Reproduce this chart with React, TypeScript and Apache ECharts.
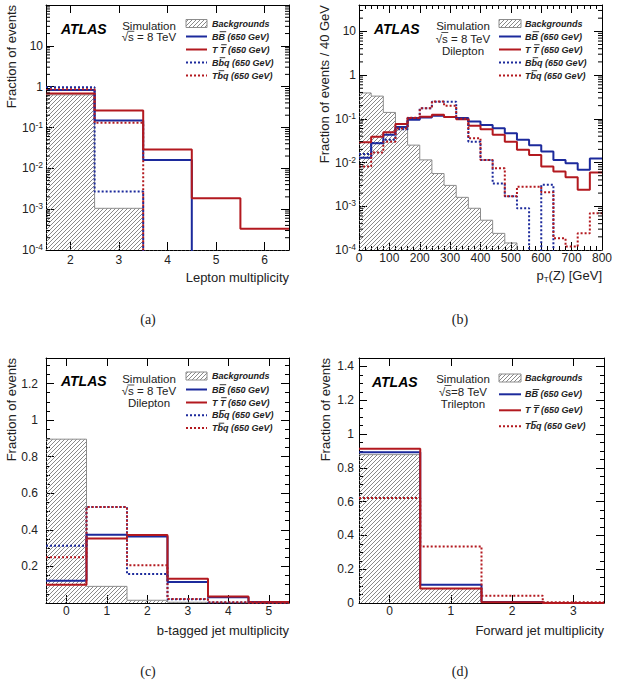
import React, { useEffect, useRef } from 'react';
import * as echarts from 'echarts';

// (a) Lepton multiplicity
const leptonCenters = [2, 3, 4, 5, 6];
const leptonBkg = [0.63, 0.00105, 0, 0, 0];
const leptonBB = [0.83, 0.148, 0.016, 0, 0];
const leptonTT = [0.68, 0.26, 0.029, 0.00185, 0.00033];
const leptonBbq = [0.97, 0.0027, 0, 0, 0];
const leptonTbq = [0.86, 0.13, 0, 0, 0];

// (b) pT(Z) [GeV], 40 GeV bins
const ptCenters = [20, 60, 100, 140, 180, 220, 260, 300, 340, 380, 420, 460, 500, 540, 580, 620, 660, 700, 740, 780];
const ptBkg = [0.39, 0.33, 0.14, 0.062, 0.025, 0.0115, 0.0056, 0.003, 0.0016, 0.0009, 0.00048, 0.00024, 0.000145, 0, 0, 0, 0, 0, 0, 0];
const ptBB = [0.0128, 0.0276, 0.043, 0.065, 0.095, 0.107, 0.117, 0.11, 0.104, 0.087, 0.072, 0.061, 0.047, 0.033, 0.025, 0.0178, 0.0115, 0.0096, 0.0068, 0.0124];
const ptTT = [0.029, 0.039, 0.049, 0.076, 0.104, 0.112, 0.123, 0.11, 0.098, 0.069, 0.058, 0.043, 0.03, 0.0195, 0.0149, 0.0081, 0.0062, 0.0046, 0.0024, 0.0059];
const ptBbq = [0.0157, 0.028, 0.033, 0.058, 0.104, 0.174, 0.246, 0.246, 0.1, 0.03, 0.0115, 0.0033, 0.0017, 0.0009, 0, 0.0031, 0, 0, 0, 0];
const ptTbq = [0.0081, 0.017, 0.03, 0.06, 0.105, 0.174, 0.25, 0.2, 0.1, 0.036, 0.0115, 0.0074, 0.0017, 0.0028, 0.0028, 0.0021, 0.000185, 0.00012, 0.00024, 0.00069];

// (c) b-tagged jet multiplicity
const btagCenters = [0, 1, 2, 3, 4, 5];
const btagBkg = [0.896, 0.091, 0.015, 0.004, 0.001, 0];
const btagBB = [0.122, 0.373, 0.364, 0.115, 0.031, 0.004];
const btagTT = [0.1, 0.353, 0.372, 0.133, 0.036, 0.005];
const btagBbq = [0.313, 0.525, 0.158, 0.02, 0.003, 0];
const btagTbq = [0.25, 0.525, 0.206, 0.022, 0.004, 0];

// (d) Forward jet multiplicity
const fwdCenters = [0, 1, 2, 3];
const fwdBkg = [0.878, 0.085, 0.004, 0];
const fwdBB = [0.892, 0.108, 0.006, 0];
const fwdTT = [0.913, 0.086, 0.005, 0];
const fwdTbq = [0.621, 0.335, 0.043, 0.004];

// legend labels: [before, overlined part, after]
const legendLabels: Record<string, string[]> = {
  bkg: ['Backgrounds', '', ''],
  bb: ['B', 'B', ' (650 GeV)'],
  tt: ['T ', 'T', ' (650 GeV)'],
  bbq: ['B', 'b', 'q (650 GeV)'],
  tbq: ['T', 'b', 'q (650 GeV)'],
};

const BLUE = '#1c2a9c';
const RED = '#b3191f';
const GRAY = '#8c8c8c';
const FONT = 'Liberation Sans';
const TXT = '#222';

function makeHatch() {
  const s = 4;
  const c = document.createElement('canvas');
  c.width = s;
  c.height = s;
  const ctx = c.getContext('2d')!;
  ctx.strokeStyle = '#7c7c7c';
  ctx.lineWidth = 0.9;
  ctx.beginPath();
  ctx.moveTo(-1, s + 1);
  ctx.lineTo(s + 1, -1);
  ctx.moveTo(-1, 1);
  ctx.lineTo(1, -1);
  ctx.moveTo(s - 1, s + 1);
  ctx.lineTo(s + 1, s - 1);
  ctx.stroke();
  return { image: c, repeat: 'repeat', imageWidth: s, imageHeight: s };
}

let measureCtx: CanvasRenderingContext2D | null = null;
function textWidth(t: string, font: string) {
  if (!measureCtx) measureCtx = document.createElement('canvas').getContext('2d');
  measureCtx!.font = font;
  return measureCtx!.measureText(t).width;
}

function steps(centers: number[], values: number[], width: number, floor: number) {
  const pts = centers.map((c, i) => [c - width / 2, Math.max(values[i], floor)]);
  const n = centers.length - 1;
  pts.push([centers[n] + width / 2, Math.max(values[n], floor)]);
  return pts;
}

const intFmt = (v: number) => (Math.abs(v - Math.round(v)) < 1e-6 ? String(Math.round(v)) : '');
const logFmt = (v: number) => {
  const l = Math.log10(v);
  const e = Math.round(l);
  if (Math.abs(l - e) > 1e-6 || e >= 2) return '';
  if (e === 0) return '1';
  if (e === 1) return '10';
  return `10{s|${e}}`;
};
const linFmt = (hideZero: boolean) => (v: number) => {
  const r = Math.round(v * 5) / 5;
  if (Math.abs(v - r) > 1e-6 || v > 1.41) return '';
  if (hideZero && Math.abs(v) < 1e-9) return '';
  return String(+r.toFixed(1));
};

const PANELS = [
  {
    box: [46, 5, 243, 245], log: true, xMin: 1.5, xMax: 6.5, yMax: 100, binW: 1,
    centers: leptonCenters, bkg: leptonBkg, bb: leptonBB, tt: leptonTT, bbq: leptonBbq, tbq: leptonTbq,
    xFmt: intFmt, xInterval: 0, xMinor: false, xMargin: 4, yMargin: 3,
    xTitle: 'Lepton multiplicity', xTitleY: 277, yTitle: 'Fraction of events', yTitleX: 11,
    atlas: [61, 29], simX: 149, simLines: ['Simulation', '\u221As = 8 TeV'], simY: [26, 37.3],
    leg: [186, 207, 212], legY: [23.5, 36.5, 49.5, 62.5, 75.5], legKeys: ['bkg', 'bb', 'tt', 'bbq', 'tbq'],
    caption: '(a)', capXY: [148, 319.5],
  },
  {
    box: [359, 5, 243, 245], log: true, xMin: 0, xMax: 800, yMax: 40, binW: 40,
    centers: ptCenters, bkg: ptBkg, bb: ptBB, tt: ptTT, bbq: ptBbq, tbq: ptTbq,
    xFmt: (v: number) => String(v), xInterval: 100, xMinor: true, xMargin: 2, yMargin: 3,
    xTitle: 'pT', xTitleY: 275.5, yTitle: 'Fraction of events / 40 GeV', yTitleX: 324.5,
    atlas: [374, 29], simX: 463, simLines: ['Simulation', '\u221As = 8 TeV', 'Dilepton'], simY: [26, 38.5, 51],
    leg: [499, 521, 525], legY: [23.5, 36.5, 49.5, 62.5, 75.5], legKeys: ['bkg', 'bb', 'tt', 'bbq', 'tbq'],
    caption: '(b)', capXY: [460, 319.5],
  },
  {
    box: [46, 358, 243, 245], log: false, xMin: -0.5, xMax: 5.5, yMax: 1.34, binW: 1,
    centers: btagCenters, bkg: btagBkg, bb: btagBB, tt: btagTT, bbq: btagBbq, tbq: btagTbq,
    xFmt: intFmt, xInterval: 0, xMinor: false, xMargin: 2, yMargin: 8, hideZero: true,
    xTitle: 'b-tagged jet multiplicity', xTitleY: 630, yTitle: 'Fraction of events', yTitleX: 11,
    atlas: [61, 381], simX: 149, simLines: ['Simulation', '\u221As = 8 TeV', 'Dilepton'], simY: [379, 391, 403.3],
    leg: [186, 207, 212], legY: [376, 389.5, 402.5, 415.3, 428], legKeys: ['bkg', 'bb', 'tt', 'bbq', 'tbq'],
    caption: '(c)', capXY: [148, 671.5],
  },
  {
    box: [359, 358, 245, 245], log: false, xMin: -0.5, xMax: 3.5, yMax: 1.45, binW: 1,
    centers: fwdCenters, bkg: fwdBkg, bb: fwdBB, tt: fwdTT, bbq: null, tbq: fwdTbq,
    xFmt: intFmt, xInterval: 0, xMinor: false, xMargin: 2, yMargin: 5, hideZero: false,
    xTitle: 'Forward jet multiplicity', xTitleY: 630, yTitle: 'Fraction of events', yTitleX: 325,
    atlas: [372, 382], simX: 463, simLines: ['Simulation', '\u221As=8 TeV', 'Trilepton'], simY: [379, 391.5, 404],
    leg: [499, 521, 525], legY: [378, 394.3, 410.3, 426.3], legKeys: ['bkg', 'bb', 'tt', 'tbq'],
    caption: '(d)', capXY: [460, 671.5],
  },
];

const STYLE: Record<string, { color: string; dashed: boolean }> = {
  bb: { color: BLUE, dashed: false },
  tt: { color: RED, dashed: false },
  bbq: { color: BLUE, dashed: true },
  tbq: { color: RED, dashed: true },
};

function buildOption() {
  const hatch = makeHatch();
  const grids: any[] = [];
  const xAxes: any[] = [];
  const yAxes: any[] = [];
  const series: any[] = [];
  const graphics: any[] = [];

  const axisLine = { show: true, onZero: false, lineStyle: { color: '#000', width: 1 } };
  const axisTick = { show: true, inside: true, length: 8, lineStyle: { color: '#000', width: 1 } };
  const legFont = `italic bold 9px "${FONT}"`;
  const simFont = `11.5px "${FONT}"`;

  PANELS.forEach((P: any, p: number) => {
    const [gl, gt, gw, gh] = P.box;
    grids.push({ left: gl, top: gt, width: gw, height: gh, outerBoundsMode: 'none', containLabel: false });

    const xBase: any = {
      type: 'value', gridIndex: p, min: P.xMin, max: P.xMax,
      axisLine, axisTick, splitLine: { show: false },
      minorTick: P.xMinor ? { show: true, splitNumber: 5, length: 4, lineStyle: { color: '#000' } } : { show: false },
    };
    if (P.xInterval) xBase.interval = P.xInterval;
    else { xBase.minInterval = 1; xBase.maxInterval = 1; }
    xAxes.push({
      ...xBase, position: 'bottom',
      axisLabel: { show: true, margin: P.xMargin, fontSize: 12, fontFamily: FONT, color: TXT, formatter: P.xFmt },
    });
    xAxes.push({ ...xBase, position: 'top', axisLabel: { show: false } });

    let yBase: any;
    if (P.log) {
      yBase = {
        type: 'log', logBase: 10, gridIndex: p, min: 1e-4, max: P.yMax, splitNumber: 6,
        axisLine, axisTick, splitLine: { show: false }, minorTick: { show: false },
      };
    } else {
      yBase = {
        type: 'value', gridIndex: p, min: 0, max: P.yMax, interval: 0.2,
        axisLine, axisTick, splitLine: { show: false },
        minorTick: { show: true, splitNumber: 4, length: 4, lineStyle: { color: '#000' } },
      };
    }
    yAxes.push({
      ...yBase, position: 'left',
      axisLabel: {
        show: true, margin: P.yMargin, fontSize: 12, fontFamily: FONT, color: TXT,
        formatter: P.log ? logFmt : linFmt(!!P.hideZero),
        rich: { s: { fontSize: 8.5, fontFamily: FONT, color: TXT, verticalAlign: 'top', padding: [0, 0, 6, 0] } },
      },
    });
    yAxes.push({ ...yBase, position: 'right', axisLabel: { show: false } });

    const floor = P.log ? 1e-7 : 0;
    const xi = 2 * p;
    const yi = 2 * p;

    series.push({
      name: 'Backgrounds', type: 'line', xAxisIndex: xi, yAxisIndex: yi,
      data: steps(P.centers, P.bkg, P.binW, floor), step: 'end', symbol: 'none', showSymbol: false,
      lineStyle: { color: GRAY, width: 1 }, itemStyle: { color: GRAY },
      areaStyle: { color: hatch, opacity: 1, origin: 'start' },
      silent: true, z: 1, clip: true,
    });
    ['bb', 'tt', 'bbq', 'tbq'].forEach((k) => {
      if (!P[k]) return;
      const st = STYLE[k];
      series.push({
        name: legendLabels[k].join(''), type: 'line', xAxisIndex: xi, yAxisIndex: yi,
        data: steps(P.centers, P[k], P.binW, floor), step: 'end', symbol: 'none', showSymbol: false,
        lineStyle: { color: st.color, width: 2, type: st.dashed ? [2, 2] : 'solid' },
        itemStyle: { color: st.color },
        silent: true, z: 3, clip: true,
      });
    });

    if (P.log) {
      const minorVals: number[][] = [];
      for (let k = -4; k <= 2; k++) {
        for (let m = 2; m <= 9; m++) {
          const v = m * Math.pow(10, k);
          if (v < P.yMax) minorVals.push([P.xMin, v]);
        }
      }
      series.push({
        type: 'custom', xAxisIndex: xi, yAxisIndex: yi, silent: true, z: 5, clip: false,
        data: minorVals,
        renderItem: (params: any, api: any) => {
          const cs = params.coordSys;
          const pt = api.coord([api.value(0), api.value(1)]);
          const y = pt[1];
          return {
            type: 'group',
            children: [
              { type: 'line', shape: { x1: cs.x, y1: y, x2: cs.x + 4, y2: y }, style: { stroke: '#000', lineWidth: 1 } },
              { type: 'line', shape: { x1: cs.x + cs.width - 4, y1: y, x2: cs.x + cs.width, y2: y }, style: { stroke: '#000', lineWidth: 1 } },
            ],
          };
        },
      });
    }

    // ATLAS label
    graphics.push({
      type: 'text', x: P.atlas[0], y: P.atlas[1],
      style: { text: 'ATLAS', fontSize: 14, fontWeight: 'bold', fontStyle: 'italic', fontFamily: FONT, fill: '#000', align: 'left', verticalAlign: 'middle' },
    });
    P.simLines.forEach((t: string, i: number) => {
      graphics.push({
        type: 'text', x: P.simX, y: P.simY[i],
        style: { text: t, fontSize: 11.5, fontFamily: FONT, fill: TXT, align: 'center', verticalAlign: 'middle' },
      });
      if (t.charAt(0) === '\u221A') {
        const left = P.simX - textWidth(t, simFont) / 2;
        const x1 = left + textWidth('\u221A', simFont) * 0.9;
        const x2 = left + textWidth('\u221As', simFont) + 0.5;
        graphics.push({
          type: 'line', shape: { x1, y1: P.simY[i] - 6, x2, y2: P.simY[i] - 6 },
          style: { stroke: TXT, lineWidth: 0.8 },
        });
      }
    });

    // Legend
    const [lx0, lx1, tx] = P.leg;
    P.legKeys.forEach((k: string, i: number) => {
      const yc = P.legY[i];
      if (k === 'bkg') {
        graphics.push({
          type: 'rect', shape: { x: lx0, y: yc - 4, width: lx1 - lx0, height: 8 },
          style: { fill: hatch, stroke: GRAY, lineWidth: 1 },
        });
      } else {
        const st = STYLE[k];
        graphics.push({
          type: 'line', shape: { x1: lx0, y1: yc, x2: lx1, y2: yc },
          style: { stroke: st.color, lineWidth: 2, lineDash: st.dashed ? [2, 2] : null },
        });
      }
      const parts = legendLabels[k];
      graphics.push({
        type: 'text', x: tx, y: yc,
        style: { text: parts.join(''), fontSize: 9, fontWeight: 'bold', fontStyle: 'italic', fontFamily: FONT, fill: TXT, align: 'left', verticalAlign: 'middle' },
      });
      if (parts[1]) {
        const x1 = tx + textWidth(parts[0], legFont) + 1.2;
        const x2 = tx + textWidth(parts[0] + parts[1], legFont) + 1.2;
        graphics.push({
          type: 'line', shape: { x1, y1: yc - 4.8, x2, y2: yc - 4.8 },
          style: { stroke: TXT, lineWidth: 0.9 },
        });
      }
    });

    // Axis titles
    if (P.xTitle === 'pT') {
      graphics.push({
        type: 'text', x: gl + gw, y: P.xTitleY,
        style: {
          text: '{a|p}{b|T}{a|(Z) [GeV]}', align: 'right', verticalAlign: 'middle', fill: TXT,
          rich: {
            a: { fontSize: 13, fontFamily: FONT, fill: TXT },
            b: { fontSize: 8, fontFamily: FONT, fill: TXT, verticalAlign: 'bottom', padding: [8, 0, 0, 0] },
          },
        },
      });
    } else {
      graphics.push({
        type: 'text', x: gl + gw, y: P.xTitleY,
        style: { text: P.xTitle, fontSize: 13, fontFamily: FONT, fill: TXT, align: 'right', verticalAlign: 'middle' },
      });
    }
    graphics.push({
      type: 'text', x: P.yTitleX, y: gt, rotation: Math.PI / 2,
      style: { text: P.yTitle, fontSize: 13, fontFamily: FONT, fill: TXT, align: 'right', verticalAlign: 'middle' },
    });
    graphics.push({
      type: 'text', x: P.capXY[0], y: P.capXY[1],
      style: { text: P.caption, fontSize: 14, fontFamily: 'Liberation Serif', fill: TXT, align: 'center', verticalAlign: 'middle' },
    });
  });

  return {
    animation: false,
    backgroundColor: '#fff',
    grid: grids,
    xAxis: xAxes,
    yAxis: yAxes,
    series,
    graphic: { elements: graphics },
  };
}

export default function App() {
  const ref = useRef<HTMLDivElement>(null);
  useEffect(() => {
    const chart = echarts.init(ref.current!, null, { renderer: 'svg' });
    chart.setOption(buildOption() as any);
    return () => chart.dispose();
  }, []);
  return (
    <div
      ref={ref}
      style={{ position: 'fixed', left: 0, top: 0, width: 618, height: 682, background: '#fff' }}
    />
  );
}
